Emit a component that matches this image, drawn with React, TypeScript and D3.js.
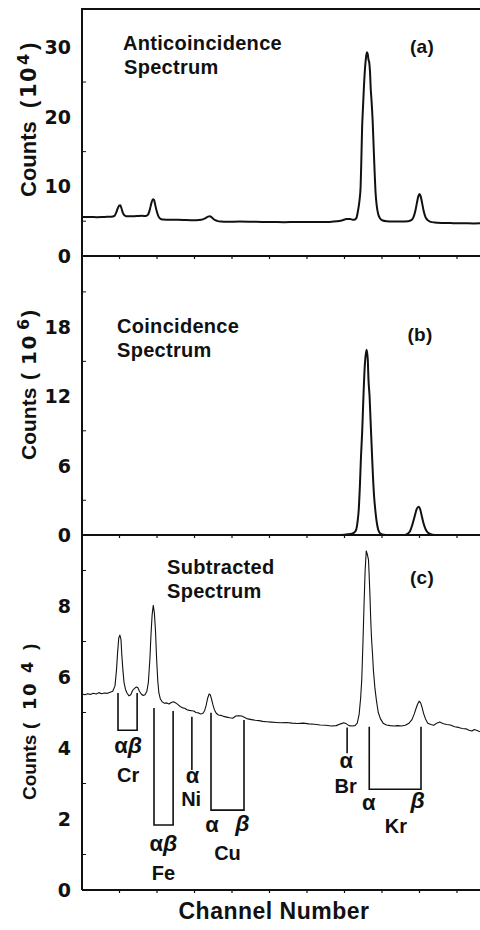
import React from "react";
import * as d3 from "d3";

// ---------- DATA ----------
// channel number (arbitrary units, tick every 100) vs counts
const anticoincidence: [number, number][] = [
  [0, 5.6], [20, 5.62], [40, 5.58], [60, 5.62], [78, 5.65], [86, 5.75], [91, 6.2], [95, 6.8], [99, 7.25], [102, 7.3],
  [105, 6.9], [109, 6.2], [113, 5.85], [118, 5.72], [130, 5.7], [145, 5.74], [160, 5.78], [170, 5.75], [176, 5.95],
  [181, 6.7], [185, 7.6], [189, 8.15], [192, 8.05], [195, 7.4], [199, 6.5], [203, 5.8], [208, 5.4], [215, 5.25],
  [230, 5.22], [250, 5.2], [270, 5.18], [290, 5.15], [305, 5.15], [318, 5.2], [328, 5.4], [336, 5.65], [341, 5.72],
  [346, 5.55], [352, 5.25], [360, 5.05], [370, 4.95], [390, 4.92], [420, 4.95], [450, 4.93], [480, 4.9], [510, 4.88],
  [540, 4.86], [570, 4.88], [600, 4.87], [630, 4.88], [660, 4.9], [680, 4.98], [695, 5.15], [705, 5.3], [715, 5.3],
  [722, 5.22], [728, 5.25], [732, 5.5], [736, 6.5], [740, 8.0], [743, 10.0], [745, 14.0], [747, 18.5], [749, 21.0],
  [752, 24.5], [755, 27.2], [758, 28.8], [760, 29.3], [762, 29.0], [764, 28.2], [766, 27.8], [768, 26.5], [770, 24.0],
  [772, 22.4], [775, 19.5], [777, 16.7], [780, 12.5], [783, 9.0], [786, 7.2], [790, 6.0], [795, 5.4], [802, 5.1],
  [812, 5.0], [830, 4.95], [850, 4.95], [870, 5.0], [878, 5.15], [884, 5.6], [889, 6.5], [893, 7.6], [897, 8.6],
  [900, 8.9], [903, 8.6], [907, 7.6], [911, 6.5], [916, 5.6], [921, 5.2], [928, 4.95], [940, 4.82], [960, 4.75],
  [990, 4.72], [1020, 4.7], [1045, 4.68], [1064, 4.7],
];

const coincidence: [number, number][] = [
  [0, 0], [200, 0], [400, 0], [600, 0], [680, 0], [700, 0.03], [715, 0.08], [725, 0.18], [731, 0.45], [735, 1.2],
  [738, 2.2], [741, 4.2], [744, 6.8], [747, 8.8], [750, 11.5], [753, 14.0], [756, 15.4], [759, 16.0], [762, 15.2],
  [764, 13.4], [767, 11.9], [770, 9.5], [773, 7.2], [776, 5.0], [779, 3.3], [782, 2.2], [786, 1.1], [790, 0.45],
  [796, 0.12], [805, 0.02], [815, 0], [860, 0], [868, 0.1], [875, 0.35], [881, 0.9], [887, 1.6], [892, 2.2],
  [897, 2.45], [901, 2.3], [905, 1.8], [910, 1.1], [915, 0.6], [921, 0.25], [930, 0.08], [940, 0.01], [950, 0],
  [1064, 0],
];

const subtracted: [number, number][] = [
  [0, 5.52], [8, 5.5], [15, 5.53], [22, 5.51], [30, 5.54], [38, 5.52], [45, 5.56], [52, 5.53], [60, 5.55], [68, 5.54],
  [75, 5.57], [82, 5.6], [88, 5.75], [92, 6.2], [95, 6.7], [98, 7.1], [101, 7.18], [104, 7.05], [106, 6.65], [109, 6.2],
  [112, 5.85], [116, 5.65], [120, 5.55], [125, 5.47], [130, 5.5], [135, 5.62], [140, 5.68], [145, 5.72], [149, 5.7],
  [153, 5.6], [158, 5.52], [163, 5.48], [168, 5.5], [173, 5.6], [177, 5.85], [181, 6.5], [184, 7.2], [187, 7.75],
  [190, 8.02], [193, 7.8], [196, 7.3], [199, 6.5], [202, 5.9], [205, 5.55], [209, 5.38], [214, 5.3], [220, 5.26],
  [226, 5.27], [232, 5.24], [238, 5.28], [244, 5.3], [250, 5.27], [256, 5.22], [262, 5.17], [268, 5.13], [274, 5.12],
  [280, 5.08], [286, 5.06], [292, 5.05], [298, 5.04], [304, 5.0], [310, 4.99], [316, 4.96], [322, 4.97], [327, 5.05],
  [331, 5.2], [335, 5.4], [339, 5.52], [342, 5.5], [345, 5.4], [349, 5.22], [353, 5.08], [358, 4.98], [364, 4.93],
  [370, 4.92], [378, 4.89], [386, 4.87], [394, 4.85], [402, 4.84], [410, 4.9], [418, 4.91], [426, 4.9], [434, 4.86],
  [442, 4.82], [452, 4.8], [462, 4.78], [472, 4.77], [482, 4.75], [492, 4.74], [505, 4.73], [518, 4.72], [530, 4.71],
  [545, 4.72], [560, 4.7], [575, 4.69], [590, 4.7], [605, 4.68], [620, 4.67], [635, 4.65], [650, 4.64], [665, 4.62],
  [678, 4.63], [690, 4.68], [698, 4.71], [705, 4.68], [712, 4.63], [720, 4.62], [728, 4.63], [734, 4.7], [739, 4.95],
  [743, 5.4], [746, 5.92], [749, 6.9], [752, 8.0], [755, 9.0], [758, 9.55], [761, 9.45], [764, 9.3], [766, 8.8],
  [768, 8.25], [770, 7.6], [772, 7.1], [775, 6.6], [777, 6.2], [781, 5.7], [785, 5.35], [790, 5.0], [796, 4.82],
  [803, 4.7], [812, 4.65], [822, 4.63], [832, 4.62], [842, 4.63], [852, 4.62], [862, 4.64], [872, 4.7], [880, 4.8],
  [886, 4.96], [891, 5.12], [895, 5.24], [899, 5.32], [903, 5.27], [907, 5.14], [911, 4.97], [916, 4.82], [922, 4.7],
  [930, 4.66], [938, 4.64], [946, 4.7], [954, 4.73], [962, 4.69], [972, 4.66], [982, 4.65], [994, 4.6], [1004, 4.58],
  [1014, 4.55], [1024, 4.54], [1032, 4.5], [1040, 4.48], [1046, 4.52], [1052, 4.5], [1058, 4.47], [1064, 4.46],
];

const ticksA = [0, 10, 20, 30];
const ticksB = [0, 6, 12, 18];
const ticksC = [0, 2, 4, 6, 8];
const channelTicks = [100, 200, 300, 400, 500, 600, 700, 800, 900, 1000];

// line identifications in (c): channel of each line, top & bottom of marker (counts)
const brackets = [
  { el: "Cr", a: 96, b: 147, topA: 5.55, topB: 5.55, bottom: 4.5 },
  { el: "Fe", a: 192, b: 243, topA: 5.13, topB: 5.04, bottom: 1.83 },
  { el: "Cu", a: 344, b: 432, topA: 4.99, topB: 4.79, bottom: 2.25 },
  { el: "Kr", a: 766, b: 904, topA: 4.6, topB: 4.6, bottom: 2.84 },
];
const singles = [
  { el: "Ni", ch: 293, top: 4.88, bottom: 3.38 },
  { el: "Br", ch: 707, top: 4.58, bottom: 3.85 },
];
const lineLabels = [
  { t: "αβ", ch: 123, v: 3.86, greek: true },
  { t: "Cr", ch: 123, v: 3.05, greek: false },
  { t: "αβ", ch: 217, v: 1.1, greek: true },
  { t: "Fe", ch: 217, v: 0.28, greek: false },
  { t: "α", ch: 295, v: 3.01, greek: true },
  { t: "Ni", ch: 291, v: 2.37, greek: false },
  { t: "α", ch: 347, v: 1.64, greek: true },
  { t: "β", ch: 428, v: 1.66, greek: true },
  { t: "Cu", ch: 388, v: 0.85, greek: false },
  { t: "α", ch: 705, v: 3.44, greek: true },
  { t: "Br", ch: 703, v: 2.72, greek: false },
  { t: "α", ch: 765, v: 2.25, greek: true },
  { t: "β", ch: 895, v: 2.31, greek: true },
  { t: "Kr", ch: 837, v: 1.61, greek: false },
];

// ---------- LAYOUT ----------
const W = 480;
const H = 930;
const left = 82;
const right = 481;
const top = 9;
const zeroA = 256;
const zeroB = 535;
const zeroC = 890;

const FONT = "'Liberation Sans', Arial, sans-serif";
const DIGIT = "'DejaVu Sans', sans-serif";

const x = d3.scaleLinear().domain([0, 1064]).range([left, right]);
const yA = d3.scaleLinear().domain([0, 35.5]).range([zeroA, top]);
const yB = d3.scaleLinear().domain([0, 24.1]).range([zeroB, zeroA]);
const yC = d3.scaleLinear().domain([0, 10]).range([zeroC, zeroB]);

function Greek({ t, px, py }: { t: string; px: number; py: number }) {
  return (
    <text x={px} y={py} textAnchor="middle" fontFamily={FONT} fontWeight="bold" fontSize={21} fill="#111">
      {t.split("").map((c, i) => (
        <tspan key={i} fontStyle={c === "β" ? "italic" : "normal"} fontSize={c === "β" ? 23 : 22}>
          {c}
        </tspan>
      ))}
    </text>
  );
}

function YTicks({ y, ticks, minor, zero }: { y: d3.ScaleLinear<number, number>; ticks: number[]; minor: number[]; zero: number }) {
  return (
    <g>
      {minor.map((t) => (
        <line key={"m" + t} x1={left} x2={left + 4} y1={y(t)} y2={y(t)} stroke="#111" strokeWidth={1} />
      ))}
      {ticks.map((t) => (
        <text key={t} x={71} y={y(t) + 7} textAnchor="end" fontFamily={DIGIT} fontWeight="bold" fontSize={19} fill="#111">
          {t}
        </text>
      ))}
      {channelTicks.map((c) => (
        <line key={"x" + c} x1={x(c)} x2={x(c)} y1={zero} y2={zero + 3} stroke="#111" strokeWidth={1.2} />
      ))}
    </g>
  );
}

// rotated label; p = start offsets (px, upward from the anchor) of "(", "10", superscript, ")"
function YLabel({ cx, by, sup, p, raise, fs }: { cx: number; by: number; sup: string; p: number[]; raise: number; fs: number }) {
  return (
    <g transform={`translate(${cx},${by}) rotate(-90)`} fill="#111" fontWeight="bold">
      <text x={0} y={0} fontFamily={FONT} fontSize={fs}>Counts</text>
      <text x={p[0]} y={0} fontFamily={FONT} fontSize={fs}>(</text>
      <text x={p[1]} y={0} fontFamily={DIGIT} fontSize={fs - 1} letterSpacing={1.5}>10</text>
      <text x={p[2]} y={-raise} fontFamily={DIGIT} fontSize={16}>{sup}</text>
      <text x={p[3]} y={0} fontFamily={FONT} fontSize={fs}>)</text>
    </g>
  );
}

export default function App() {
  const lineA = d3.line<[number, number]>().x((d) => x(d[0])).y((d) => yA(d[1])).curve(d3.curveMonotoneX);
  const lineB = d3.line<[number, number]>().x((d) => x(d[0])).y((d) => yB(d[1])).curve(d3.curveMonotoneX);
  const lineC = d3.line<[number, number]>().x((d) => x(d[0])).y((d) => yC(d[1]));

  const titleProps = { fontFamily: FONT, fontWeight: "bold" as const, fontSize: 20, fill: "#111", letterSpacing: 0.3 };
  const elemProps = { fontFamily: FONT, fontWeight: "bold" as const, fontSize: 20, fill: "#111", textAnchor: "middle" as const };

  return (
    <svg width={W} height={H} style={{ position: "absolute", left: 0, top: 0, background: "#fff" }}>
      <rect x={0} y={0} width={W} height={H} fill="#fff" />
      {/* frame */}
      <line x1={left} x2={right} y1={top} y2={top} stroke="#111" strokeWidth={1.8} />
      <line x1={left} x2={left} y1={top - 1} y2={zeroC} stroke="#111" strokeWidth={2} />
      <line x1={left} x2={right} y1={zeroA} y2={zeroA} stroke="#111" strokeWidth={1.8} />
      <line x1={left} x2={right} y1={zeroB} y2={zeroB} stroke="#111" strokeWidth={1.8} />
      <line x1={left} x2={right} y1={zeroC} y2={zeroC} stroke="#111" strokeWidth={1.8} />

      <YTicks y={yA} ticks={ticksA} minor={[5, 15, 25]} zero={zeroA} />
      <YTicks y={yB} ticks={ticksB} minor={[3, 9, 15, 21]} zero={zeroB} />
      <YTicks y={yC} ticks={ticksC} minor={[1, 3, 5, 7, 9]} zero={zeroC} />

      <YLabel cx={36} by={197} sup="4" p={[89, 99, 132, 147]} raise={7} fs={22} />
      <YLabel cx={36} by={460} sup="6" p={[80, 95, 130, 143]} raise={7} fs={21} />
      <YLabel cx={36} by={800} sup="4" p={[71, 90, 127, 150]} raise={3} fs={19} />

      {/* spectra */}
      <path d={lineA(anticoincidence) || ""} fill="none" stroke="#111" strokeWidth={2} strokeLinejoin="round" />
      <path d={lineB(coincidence) || ""} fill="none" stroke="#111" strokeWidth={2} strokeLinejoin="round" />
      <path d={lineC(subtracted) || ""} fill="none" stroke="#111" strokeWidth={1.1} strokeLinejoin="round" />

      {/* titles */}
      <text x={123} y={50} {...titleProps}>Anticoincidence</text>
      <text x={124} y={74} {...titleProps}>Spectrum</text>
      <text x={422} y={53} textAnchor="middle" {...titleProps} fontSize={19}>(a)</text>
      <text x={117} y={333} {...titleProps}>Coincidence</text>
      <text x={117} y={357} {...titleProps}>Spectrum</text>
      <text x={420} y={341} textAnchor="middle" {...titleProps} fontSize={19}>(b)</text>
      <text x={167} y={574} {...titleProps}>Subtracted</text>
      <text x={167} y={598} {...titleProps}>Spectrum</text>
      <text x={422} y={584} textAnchor="middle" {...titleProps} fontSize={19}>(c)</text>

      {/* line markers */}
      {brackets.map((b) => (
        <path
          key={b.el}
          d={`M${x(b.a)},${yC(b.topA)}V${yC(b.bottom)}H${x(b.b)}V${yC(b.topB)}`}
          fill="none"
          stroke="#111"
          strokeWidth={1.6}
        />
      ))}
      {singles.map((s) => (
        <line key={s.el} x1={x(s.ch)} x2={x(s.ch)} y1={yC(s.top)} y2={yC(s.bottom)} stroke="#111" strokeWidth={1.6} />
      ))}
      {lineLabels.map((l, i) =>
        l.greek ? (
          <Greek key={i} t={l.t} px={x(l.ch)} py={yC(l.v)} />
        ) : (
          <text key={i} x={x(l.ch)} y={yC(l.v)} {...elemProps}>
            {l.t}
          </text>
        )
      )}

      <text x={274} y={919} textAnchor="middle" fontFamily={FONT} fontWeight="bold" fontSize={23} letterSpacing={0.5} fill="#111">
        Channel Number
      </text>
    </svg>
  );
}
